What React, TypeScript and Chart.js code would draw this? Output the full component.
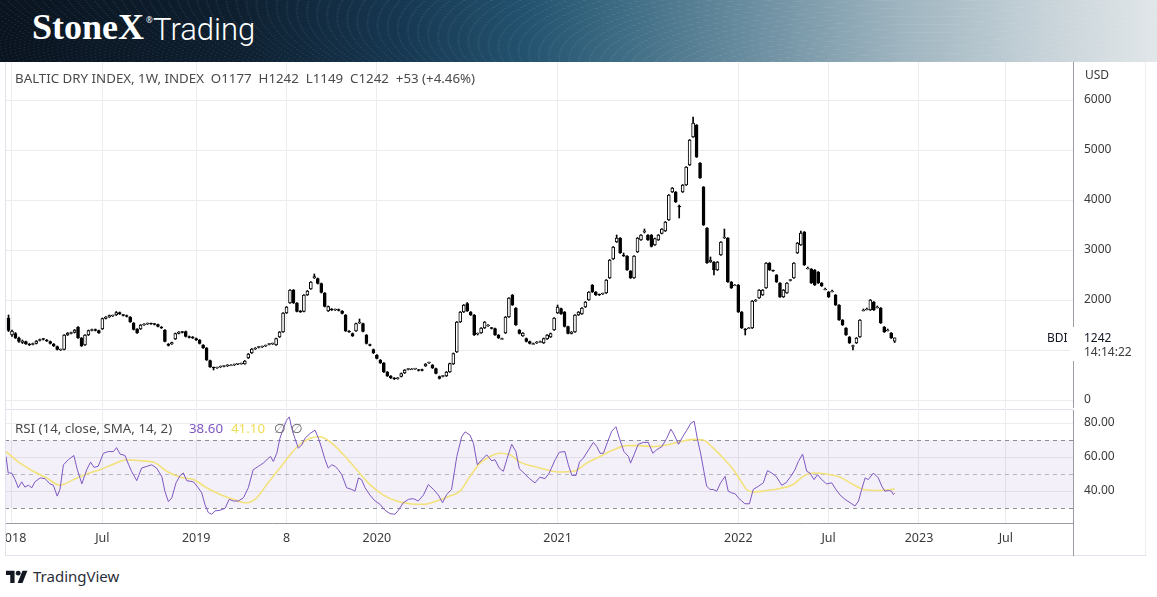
import React, { useEffect, useRef } from 'react';
import { Chart, registerables } from 'chart.js';

Chart.register(...registerables);

// ---- time axis (weekly bars, index 0 = week of 25 Dec 2017) ----
const weekTicks = [1, 27, 54, 80, 106, 158, 210, 236, 262, 287];
const weekTickLabels = ['2018', 'Jul', '2019', '8', '2020', '2021', '2022', 'Jul', '2023', 'Jul'];
const priceTicks = [0, 1000, 2000, 3000, 4000, 5000, 6000];
const rsiTicks = [40, 60, 80];
const rsiLevels = [70, 50, 30];

// ---- Baltic Dry Index weekly candles ----
const opens = [
  1640, 1300, 1330, 1240, 1150, 1170, 1120, 1110, 1130, 1190,
  1220, 1200, 1170, 1120, 1070, 1000, 1010, 1300, 1330, 1350,
  1460, 1240, 1100, 1300, 1390, 1410, 1390, 1420, 1630, 1660,
  1680, 1700, 1750, 1700, 1690, 1660, 1540, 1420, 1420, 1500,
  1520, 1530, 1520, 1510, 1460, 1400, 1120, 1120, 1220, 1330,
  1360, 1370, 1270, 1260, 1230, 1200, 1100, 1040, 790, 650,
  640, 660, 670, 680, 700, 700, 715, 720, 720, 840,
  940, 1020, 1050, 1060, 1080, 1110, 1120, 1100, 1260, 1360,
  1740, 1940, 2200, 1940, 1780, 1770, 2100, 2220, 2440, 2430,
  2330, 2140, 1780, 1820, 1800, 1810, 1780, 1700, 1380, 1330,
  1380, 1540, 1530, 1300, 1110, 1010, 900, 800, 740, 560,
  480, 440, 425, 470, 540, 610, 620, 620, 600, 610,
  680, 740, 700, 630, 470, 470, 480, 560, 720, 960,
  1560, 1760, 1930, 1760, 1700, 1320, 1340, 1440, 1480, 1440,
  1430, 1300, 1230, 1340, 1660, 2100, 1840, 1400, 1280, 1230,
  1170, 1130, 1140, 1170, 1140, 1220, 1260, 1400, 1740, 1830,
  1760, 1470, 1330, 1360, 1700, 1720, 1860, 2000, 2300, 2160,
  2110, 2120, 2140, 2440, 2820, 3160, 3240, 2900, 2880, 2580,
  2440, 2960, 3200, 3360, 3300, 3300, 3100, 3200, 3330, 3380,
  3600, 4160, 4160, 3880, 4160, 4300, 4700, 5260, 5500, 4740,
  4260, 3440, 2760, 2760, 2600, 2900, 3240, 3240, 2360, 2300,
  2300, 1760, 1420, 1440, 1440, 1980, 2040, 2100, 2240, 2740,
  2590, 2500, 2340, 2060, 2140, 2390, 2440, 2940, 3100, 3360,
  2640, 2620, 2600, 2560, 2340, 2220, 2160, 2180, 2100, 1900,
  1600, 1440, 1260, 1070, 1140, 1260, 1800, 1820, 1800, 1960,
  1860, 1840, 1460, 1400, 1340, 1177,
];
const highs = [
  1700, 1400, 1350, 1260, 1200, 1180, 1130, 1140, 1190, 1220,
  1230, 1210, 1180, 1130, 1080, 1020, 1310, 1350, 1360, 1410,
  1470, 1250, 1310, 1400, 1420, 1420, 1400, 1640, 1670, 1700,
  1700, 1770, 1760, 1710, 1700, 1670, 1550, 1430, 1510, 1530,
  1540, 1540, 1530, 1520, 1470, 1410, 1130, 1160, 1340, 1370,
  1370, 1380, 1280, 1270, 1240, 1210, 1110, 1050, 800, 660,
  660, 680, 690, 710, 710, 720, 730, 740, 790, 930,
  1030, 1050, 1070, 1080, 1100, 1130, 1140, 1240, 1370, 1750,
  1870, 2210, 2210, 1950, 1790, 2110, 2190, 2370, 2520, 2440,
  2340, 2150, 1880, 1830, 1820, 1820, 1790, 1710, 1390, 1340,
  1540, 1620, 1540, 1310, 1120, 1020, 910, 810, 750, 570,
  490, 450, 450, 540, 610, 630, 630, 630, 610, 620,
  730, 760, 710, 640, 480, 490, 570, 740, 940, 1570,
  1770, 1910, 1950, 1770, 1710, 1340, 1450, 1570, 1510, 1450,
  1440, 1310, 1240, 1670, 2050, 2110, 1850, 1410, 1350, 1240,
  1180, 1140, 1170, 1180, 1240, 1310, 1340, 1650, 1900, 1840,
  1770, 1480, 1370, 1710, 1770, 1850, 1970, 2170, 2310, 2170,
  2120, 2140, 2410, 2810, 3070, 3300, 3250, 2940, 2890, 2590,
  2890, 3250, 3310, 3420, 3310, 3310, 3240, 3310, 3430, 3570,
  4110, 4250, 4170, 3900, 4310, 4670, 5210, 5660, 5510, 4750,
  4270, 3450, 2860, 2770, 2770, 3170, 3420, 3250, 2370, 2310,
  2310, 1770, 1430, 1450, 1990, 2010, 2210, 2210, 2750, 2750,
  2600, 2510, 2350, 2210, 2350, 2410, 2750, 3150, 3380, 3370,
  2660, 2630, 2610, 2570, 2350, 2240, 2170, 2200, 2110, 1910,
  1610, 1450, 1270, 1100, 1250, 1610, 1820, 1840, 2010, 1970,
  1880, 1850, 1470, 1420, 1350, 1242,
];
const lows = [
  1370, 1270, 1230, 1150, 1130, 1110, 1090, 1100, 1120, 1180,
  1200, 1170, 1120, 1070, 1000, 990, 1000, 1290, 1320, 1340,
  1230, 1070, 1090, 1290, 1380, 1380, 1330, 1410, 1620, 1650,
  1670, 1690, 1710, 1680, 1660, 1550, 1400, 1330, 1410, 1490,
  1510, 1510, 1500, 1460, 1430, 1160, 1080, 1110, 1210, 1320,
  1340, 1260, 1240, 1230, 1190, 1120, 1030, 790, 650, 600,
  630, 650, 660, 670, 690, 690, 705, 715, 715, 830,
  930, 1010, 1040, 1050, 1070, 1100, 1110, 1090, 1250, 1350,
  1730, 1930, 1930, 1760, 1750, 1760, 2090, 2210, 2430, 2320,
  2140, 1860, 1770, 1790, 1790, 1780, 1720, 1370, 1350, 1270,
  1370, 1530, 1360, 1120, 1080, 930, 820, 730, 550, 470,
  430, 410, 415, 460, 530, 600, 610, 610, 580, 580,
  670, 730, 630, 520, 420, 460, 470, 550, 710, 950,
  1550, 1750, 1770, 1690, 1290, 1300, 1330, 1430, 1470, 1420,
  1290, 1230, 1220, 1330, 1650, 1890, 1490, 1320, 1270, 1160,
  1120, 1120, 1130, 1160, 1130, 1210, 1250, 1390, 1730, 1710,
  1460, 1320, 1320, 1350, 1690, 1710, 1850, 1990, 2150, 2090,
  2090, 2110, 2130, 2430, 2810, 3150, 2930, 2870, 2590, 2430,
  2430, 2950, 3190, 3340, 3190, 3060, 3090, 3190, 3320, 3370,
  3590, 4150, 3950, 3640, 4150, 4290, 4690, 5250, 4850, 4430,
  3490, 2730, 2750, 2500, 2590, 2890, 3230, 2350, 2230, 2290,
  1750, 1430, 1300, 1430, 1430, 1970, 2030, 2090, 2230, 2590,
  2570, 2350, 2050, 2050, 2130, 2380, 2430, 2930, 3090, 2690,
  2620, 2330, 2290, 2330, 2270, 2200, 2050, 2160, 1890, 1590,
  1490, 1290, 1130, 1000, 1130, 1250, 1780, 1800, 1790, 1790,
  1840, 1530, 1350, 1380, 1230, 1149,
];
const closes = [
  1390, 1380, 1240, 1170, 1180, 1120, 1100, 1130, 1180, 1210,
  1210, 1180, 1130, 1080, 1010, 1010, 1300, 1340, 1350, 1400,
  1240, 1080, 1300, 1390, 1410, 1390, 1340, 1630, 1660, 1690,
  1690, 1750, 1720, 1690, 1670, 1560, 1410, 1340, 1500, 1520,
  1530, 1520, 1510, 1470, 1440, 1170, 1090, 1150, 1330, 1360,
  1350, 1270, 1250, 1240, 1200, 1130, 1040, 800, 660, 640,
  650, 670, 680, 700, 700, 710, 725, 730, 780, 920,
  1020, 1040, 1060, 1070, 1090, 1120, 1130, 1230, 1360, 1740,
  1860, 2200, 1940, 1770, 1760, 2100, 2180, 2360, 2470, 2330,
  2150, 1870, 1870, 1800, 1810, 1790, 1730, 1380, 1360, 1280,
  1530, 1560, 1370, 1130, 1090, 940, 830, 740, 560, 480,
  440, 420, 440, 530, 600, 620, 620, 625, 590, 590,
  720, 750, 640, 530, 430, 480, 560, 730, 930, 1560,
  1760, 1900, 1780, 1700, 1300, 1330, 1440, 1560, 1500, 1430,
  1300, 1240, 1230, 1660, 2040, 1900, 1500, 1330, 1340, 1170,
  1130, 1130, 1160, 1170, 1230, 1300, 1330, 1640, 1860, 1720,
  1470, 1330, 1360, 1700, 1760, 1840, 1960, 2160, 2160, 2100,
  2100, 2130, 2400, 2800, 3060, 3240, 2940, 2880, 2600, 2440,
  2880, 3240, 3300, 3370, 3200, 3070, 3230, 3300, 3420, 3560,
  4100, 4240, 3960, 3860, 4300, 4660, 5200, 5540, 4860, 4440,
  3500, 2740, 2800, 2600, 2760, 3160, 3260, 2360, 2240, 2300,
  1760, 1440, 1400, 1440, 1980, 2000, 2200, 2200, 2740, 2600,
  2580, 2360, 2060, 2200, 2340, 2400, 2740, 3140, 3340, 2700,
  2640, 2340, 2300, 2340, 2280, 2220, 2060, 2180, 1900, 1600,
  1500, 1300, 1140, 1090, 1240, 1600, 1800, 1820, 2000, 1800,
  1860, 1540, 1360, 1400, 1240, 1242,
];

const rsiWeeks = [
  -0.7, -0.1, 0.9, 1.9, 2.8, 3.8, 4.7, 5.7, 6.7, 7.6, 9.1, 10.5, 11.9, 12.9, 14.0, 14.8, 15.8, 17.2, 18.8, 19.8,
  21.1, 22.5, 23.6, 24.6, 25.8, 27.3, 28.7, 30.2, 31.1, 32.1, 33.5, 34.5, 35.4, 36.9, 38.3, 39.8, 41.2, 42.6, 44.1, 45.0,
  46.0, 47.0, 48.2, 49.4, 50.3, 51.3, 53.2, 54.6, 55.6, 56.5, 57.5, 58.5, 59.4, 60.9, 62.3, 63.5, 64.7, 66.1, 67.6, 69.0,
  70.4, 71.9, 73.3, 74.8, 75.4, 76.2, 77.2, 78.1, 79.1, 80.0, 80.8, 81.5, 82.4, 83.4, 84.4, 85.3, 86.8, 88.2, 89.2, 90.1,
  91.1, 92.0, 93.0, 94.0, 94.9, 95.9, 97.3, 98.8, 99.7, 100.7, 101.6, 102.6, 104.0, 105.5, 106.9, 108.3, 109.8, 111.2, 112.2, 113.6,
  115.1, 116.5, 117.9, 119.4, 120.8, 122.3, 123.7, 124.9, 126.1, 127.5, 129.0, 130.4, 131.4, 132.8, 133.8, 134.9, 136.2, 137.6, 139.0, 140.0,
  141.2, 142.4, 143.5, 144.8, 146.0, 147.0, 148.3, 149.9, 151.5, 152.9, 154.4, 155.6, 157.3, 158.5, 160.1, 161.1, 162.1, 163.3, 164.3, 165.4,
  166.9, 168.3, 169.3, 170.2, 171.2, 172.4, 173.6, 174.8, 175.8, 177.1, 178.4, 179.0, 180.0, 181.2, 182.7, 184.1, 185.4, 186.5, 188.0, 189.4,
  190.6, 191.5, 192.8, 194.0, 195.2, 196.3, 197.3, 198.2, 199.2, 200.1, 200.9, 201.9, 202.8, 203.8, 204.9, 206.2, 207.1, 208.1, 209.1, 210.0,
  211.0, 211.9, 213.2, 214.3, 215.8, 217.2, 218.4, 219.6, 220.9, 222.5, 223.7, 225.1, 226.3, 227.3, 228.5, 229.7, 230.6, 231.8, 232.8, 234.0,
  235.4, 236.9, 238.1, 239.3, 240.7, 242.2, 243.6, 244.6, 245.5, 246.5, 247.4, 248.9, 250.3, 251.3, 252.2, 253.2, 254.1, 254.6, 255.0,
];
const rsiValues = [
  60.3, 50.6, 50.6, 46.7, 41.9, 45.4, 42.3, 43.4, 41.9, 45.4, 47.7, 47.3, 44.2, 43.4, 37.0, 40.9, 55.4, 58.4, 60.9, 52.5,
  44.2, 52.5, 57.0, 53.9, 54.5, 62.2, 63.2, 63.2, 65.5, 61.7, 60.9, 55.8, 51.6, 46.1, 53.5, 54.5, 55.4, 53.5, 48.6, 39.9,
  33.7, 36.0, 44.8, 49.2, 50.6, 46.1, 45.4, 41.9, 38.9, 32.2, 27.3, 26.3, 28.3, 28.7, 29.8, 35.1, 34.1, 34.1, 36.0, 41.9,
  52.5, 54.5, 56.4, 59.3, 60.3, 57.4, 62.2, 71.0, 76.8, 81.6, 83.6, 76.8, 71.0, 65.2, 67.1, 71.0, 73.9, 75.8, 71.0, 65.2,
  58.4, 53.5, 55.4, 54.5, 52.5, 49.6, 41.9, 40.9, 39.9, 47.7, 46.7, 41.9, 37.6, 34.1, 32.2, 28.7, 26.7, 26.3, 28.7, 33.1,
  35.1, 35.5, 34.1, 37.6, 43.8, 40.9, 37.6, 33.1, 38.0, 40.9, 60.3, 71.9, 74.8, 72.9, 68.0, 55.4, 58.4, 61.3, 57.8, 58.4,
  53.5, 51.6, 59.3, 67.5, 63.2, 53.1, 50.6, 47.3, 44.8, 48.1, 47.3, 50.6, 58.4, 62.8, 63.2, 55.4, 49.2, 49.2, 57.0, 59.3,
  64.2, 68.6, 66.1, 62.2, 62.2, 69.0, 75.2, 77.8, 71.0, 63.2, 60.3, 56.4, 61.3, 67.5, 68.6, 68.6, 62.2, 64.2, 66.1, 71.0,
  76.4, 73.3, 67.5, 71.9, 75.8, 79.7, 81.1, 71.0, 61.7, 51.6, 42.8, 40.9, 40.9, 39.9, 44.8, 48.6, 39.9, 38.9, 38.4, 36.0,
  34.1, 32.5, 32.5, 40.9, 42.8, 44.8, 52.0, 50.6, 48.6, 43.4, 44.8, 48.6, 52.5, 57.4, 61.7, 51.6, 50.6, 46.7, 49.6, 46.7,
  44.2, 44.8, 40.9, 37.6, 35.1, 33.1, 31.2, 34.1, 40.9, 47.7, 46.7, 50.6, 47.7, 42.8, 39.9, 40.3, 39.9, 37.9, 38.6,
];
const smaWeeks = [
  -0.7, 3.3, 7.1, 11.0, 14.8, 18.7, 22.5, 26.3, 30.2, 34.0, 37.8, 41.7, 45.5, 49.4, 53.2, 57.0, 60.9, 64.7, 68.5, 71.4,
  74.3, 78.1, 81.0, 83.9, 86.8, 89.6, 92.5, 96.4, 100.2, 104.0, 107.9, 111.7, 115.5, 119.4, 123.2, 127.0, 129.9, 132.8, 135.7, 138.6,
  141.4, 144.3, 147.2, 151.0, 154.9, 158.7, 162.5, 166.4, 170.2, 174.1, 177.9, 181.7, 185.6, 189.4, 193.2, 197.1, 199.9, 202.8, 205.7, 208.6,
  210.5, 212.4, 214.3, 218.2, 222.0, 225.8, 228.7, 231.6, 235.4, 239.3, 243.1, 246.0, 250.8, 255.0,
];
const smaValues = [
  63.2, 56.4, 51.6, 47.7, 43.4, 46.7, 50.0, 52.5, 55.8, 58.4, 57.8, 57.0, 51.6, 48.1, 46.7, 41.9, 38.0, 35.1, 33.1, 36.0,
  43.8, 53.5, 61.3, 67.5, 71.0, 71.9, 69.0, 61.3, 52.5, 43.8, 37.6, 34.1, 32.5, 32.2, 34.1, 37.0, 39.9, 48.6, 56.4, 60.3,
  62.2, 61.3, 57.0, 54.5, 52.5, 51.2, 51.6, 56.4, 60.3, 64.2, 66.7, 66.7, 66.1, 67.1, 69.0, 70.4, 70.0, 65.2, 59.3, 52.5,
  46.7, 40.9, 39.5, 40.3, 41.5, 43.8, 48.6, 50.6, 50.0, 48.1, 43.8, 40.9, 40.3, 41.1,
];

// ---- layout constants for the shared time scale ----
const X_MIN = -1.014;
const X_MAX = 306.32;
const GRID = '#ececec';
const AXIS_LINE = '#9a9ca3';
const TEXT = '#3a3a3a';
const FONT = "'Noto Sans', 'DejaVu Sans', sans-serif";

const rsiBandsPlugin = {
  id: 'rsiBands',
  beforeDatasetsDraw(chart: any) {
    const { ctx, chartArea, scales } = chart;
    const y = scales.y;
    const top = y.getPixelForValue(rsiLevels[0]);
    const bottom = y.getPixelForValue(rsiLevels[2]);
    ctx.save();
    ctx.fillStyle = 'rgba(126, 87, 194, 0.09)';
    ctx.fillRect(chartArea.left, top, chartArea.right - chartArea.left, bottom - top);
    ctx.setLineDash([4, 4]);
    ctx.lineWidth = 1;
    rsiLevels.forEach((lvl) => {
      const py = Math.round(y.getPixelForValue(lvl)) + 0.5;
      ctx.strokeStyle = lvl === 50 ? 'rgba(120, 123, 134, 0.5)' : 'rgba(120, 123, 134, 0.85)';
      ctx.beginPath();
      ctx.moveTo(chartArea.left, py);
      ctx.lineTo(chartArea.right, py);
      ctx.stroke();
    });
    ctx.restore();
  },
};

export default function App() {
  const priceRef = useRef<HTMLCanvasElement>(null);
  const rsiRef = useRef<HTMLCanvasElement>(null);

  useEffect(() => {
    Chart.defaults.font.family = FONT;
    const isUp = (i: number) => closes[i] >= opens[i];

    const priceChart = new Chart(priceRef.current as HTMLCanvasElement, {
      type: 'bar',
      data: {
        datasets: [
          {
            label: 'body',
            data: closes.map((c, i) => ({ x: i, y: [opens[i], c] })) as any,
            backgroundColor: (ctx: any) => (isUp(ctx.dataIndex) ? '#ffffff' : '#000000'),
            borderColor: '#000000',
            borderWidth: 1,
            borderSkipped: false,
            barThickness: 3,
            minBarLength: 1,
            grouped: false,
            order: 1,
          } as any,
          {
            label: 'wick',
            data: closes.map((_, i) => ({ x: i, y: [lows[i], highs[i]] })) as any,
            backgroundColor: '#000000',
            borderWidth: 0,
            barThickness: 1,
            grouped: false,
            order: 2,
          } as any,
        ],
      },
      options: {
        responsive: false,
        animation: false,
        events: [],
        layout: { padding: { left: 5, right: 0, top: 0, bottom: 0 } },
        plugins: { legend: { display: false }, tooltip: { enabled: false } },
        scales: {
          x: {
            type: 'linear',
            min: X_MIN,
            max: X_MAX,
            offset: false,
            grid: { color: GRID, drawTicks: false, offset: false },
            border: { display: false },
            ticks: { display: false },
            afterBuildTicks: (s: any) => {
              s.ticks = weekTicks.map((v) => ({ value: v }));
            },
            afterFit: (s: any) => {
              s.height = 0;
              s.paddingLeft = 0;
              s.paddingRight = 0;
            },
          },
          y: {
            position: 'right',
            min: -160,
            max: 6760,
            grid: { color: GRID, drawTicks: false },
            border: { color: AXIS_LINE },
            ticks: { padding: 11, color: TEXT, font: { size: 12 }, callback: (v: any) => String(v) },
            afterBuildTicks: (s: any) => {
              s.ticks = priceTicks.map((v) => ({ value: v }));
            },
            afterFit: (s: any) => {
              s.width = 84;
              s.paddingTop = 0;
              s.paddingBottom = 0;
            },
          },
        },
      } as any,
    });

    const rsiChart = new Chart(rsiRef.current as HTMLCanvasElement, {
      type: 'line',
      data: {
        datasets: [
          {
            label: 'RSI',
            data: rsiWeeks.map((w, i) => ({ x: w, y: rsiValues[i] })),
            borderColor: '#7e57c2',
            borderWidth: 1,
            pointRadius: 0,
            tension: 0,
          },
          {
            label: 'SMA',
            data: smaWeeks.map((w, i) => ({ x: w, y: smaValues[i] })),
            borderColor: '#f3e27a',
            borderWidth: 1.6,
            pointRadius: 0,
            cubicInterpolationMode: 'monotone',
          },
        ],
      },
      options: {
        responsive: false,
        animation: false,
        events: [],
        layout: { padding: { left: 5, right: 0, top: 0, bottom: 0 } },
        plugins: { legend: { display: false }, tooltip: { enabled: false } },
        scales: {
          x: {
            type: 'linear',
            min: X_MIN,
            max: X_MAX,
            grid: { color: GRID, drawTicks: false },
            border: { color: AXIS_LINE },
            ticks: {
              padding: 8,
              color: TEXT,
              font: { size: 12.5 },
              autoSkip: false,
              maxRotation: 0,
              callback: (v: any) => {
                const k = weekTicks.indexOf(Number(v));
                return k >= 0 ? weekTickLabels[k] : '';
              },
            },
            afterBuildTicks: (s: any) => {
              s.ticks = weekTicks.map((v) => ({ value: v }));
            },
            afterFit: (s: any) => {
              s.height = 33;
              s.paddingLeft = 0;
              s.paddingRight = 0;
            },
          },
          y: {
            position: 'right',
            min: 21.18,
            max: 87.65,
            grid: { color: GRID, drawTicks: false },
            border: { color: AXIS_LINE },
            ticks: { padding: 11, color: TEXT, font: { size: 12 }, callback: (v: any) => Number(v).toFixed(2) },
            afterBuildTicks: (s: any) => {
              s.ticks = rsiTicks.map((v) => ({ value: v }));
            },
            afterFit: (s: any) => {
              s.width = 84;
              s.paddingTop = 0;
              s.paddingBottom = 0;
            },
          },
        },
      } as any,
      plugins: [rsiBandsPlugin],
    });

    return () => {
      priceChart.destroy();
      rsiChart.destroy();
    };
  }, []);

  const abs = (s: React.CSSProperties): React.CSSProperties => ({ position: 'absolute', ...s });
  const legendFont: React.CSSProperties = { fontSize: 13.3, color: '#4a4a4a', whiteSpace: 'pre', lineHeight: '18px' };

  return (
    <div
      style={{
        position: 'absolute',
        left: 0,
        top: 0,
        width: 1157,
        height: 597,
        background: '#ffffff',
        overflow: 'hidden',
        fontFamily: FONT,
      }}
    >
      {/* banner */}
      <div
        style={abs({
          left: 0,
          top: 0,
          width: 1157,
          height: 62,
          background:
            'linear-gradient(90deg, #0a1420 0%, #0e1f2f 20%, #163650 34%, #245470 46%, #3f6d85 54%, #6f91a3 66%, #9fb5c0 78%, #c6d2d8 90%, #e1e6e9 100%)',
        })}
      />
      <div
        style={abs({
          left: 0,
          top: 0,
          width: 1157,
          height: 62,
          background:
            'repeating-radial-gradient(ellipse at 80% 200%, rgba(255,255,255,0) 0px, rgba(255,255,255,0) 10px, rgba(255,255,255,0.09) 11px, rgba(255,255,255,0) 12px)',
        })}
      />
      <div
        style={abs({
          left: 32,
          top: 9,
          fontFamily: "'Liberation Serif', serif",
          fontWeight: 700,
          fontSize: 36,
          lineHeight: '36px',
          color: '#ffffff',
          whiteSpace: 'pre',
        })}
      >
        StoneX
      </div>
      <div style={abs({ left: 146, top: 14, fontSize: 8, color: '#ffffff', fontFamily: FONT })}>®</div>
      <div
        style={abs({
          left: 153,
          top: 14,
          fontFamily: 'Roboto, sans-serif',
          fontWeight: 300,
          fontSize: 31,
          lineHeight: '31px',
          color: '#ffffff',
          whiteSpace: 'pre',
        })}
      >
        Trading
      </div>

      {/* price pane */}
      <canvas ref={priceRef} width={1157} height={346} style={abs({ left: 0, top: 62, width: 1157, height: 346 })} />
      {/* RSI pane + time axis */}
      <canvas ref={rsiRef} width={1157} height={146} style={abs({ left: 0, top: 410, width: 1157, height: 146 })} />

      {/* frame lines */}
      <div style={abs({ left: 5, top: 409, width: 1068, height: 1, background: '#e0e3eb' })} />
      <div style={abs({ left: 5, top: 62, width: 1, height: 494, background: '#e0e3eb' })} />
      <div style={abs({ left: 1145, top: 62, width: 1, height: 494, background: '#eeeeee' })} />
      <div style={abs({ left: 5, top: 555, width: 1141, height: 1, background: '#e0e3eb' })} />
      <div style={abs({ left: 0, top: 524, width: 5, height: 32, background: '#ffffff' })} />
      <div style={abs({ left: 1073, top: 523, width: 1, height: 33, background: AXIS_LINE })} />
      {/* last-price tag area (hides the axis line and the 1000 label behind it) */}
      <div style={abs({ left: 1070, top: 327, width: 72, height: 34, background: '#ffffff' })} />

      {/* legends */}
      <div style={abs({ left: 15, top: 69, ...legendFont })}>
        BALTIC DRY INDEX, 1W, INDEX  O1177  H1242  L1149  C1242  +53 (+4.46%)
      </div>
      <div style={abs({ left: 1085, top: 66, fontSize: 12, color: TEXT, lineHeight: '18px' })}>USD</div>
      <div style={abs({ left: 1047, top: 329, fontSize: 12, color: '#131722', lineHeight: '18px' })}>BDI</div>
      <div style={abs({ left: 1084, top: 329, fontSize: 12, color: '#131722', lineHeight: '18px' })}>1242</div>
      <div style={abs({ left: 1084, top: 343, fontSize: 12, color: TEXT, lineHeight: '18px' })}>14:14:22</div>

      <div style={abs({ left: 15, top: 419, ...legendFont })}>RSI (14, close, SMA, 14, 2)</div>
      <div style={abs({ left: 189, top: 419, ...legendFont, color: '#7e57c2' })}>38.60</div>
      <div style={abs({ left: 231, top: 419, ...legendFont, color: '#efdc55' })}>41.10</div>
      <div style={abs({ left: 274, top: 419, ...legendFont, color: '#6a6a6a' })}>∅</div>
      <div style={abs({ left: 291, top: 419, ...legendFont, color: '#6a6a6a' })}>∅</div>

      {/* footer */}
      <svg style={abs({ left: 6, top: 570, width: 22, height: 13 })} viewBox="0 0 36 21">
        <path d="M14 21H7V8H0V1h14z" fill="#131722" />
        <circle cx="20" cy="5" r="4" fill="#131722" />
        <path d="M27 21h-8l8-20h8z" fill="#131722" />
      </svg>
      <div style={abs({ left: 33, top: 566, fontSize: 15, color: '#2a2e39', lineHeight: '20px' })}>TradingView</div>
    </div>
  );
}
